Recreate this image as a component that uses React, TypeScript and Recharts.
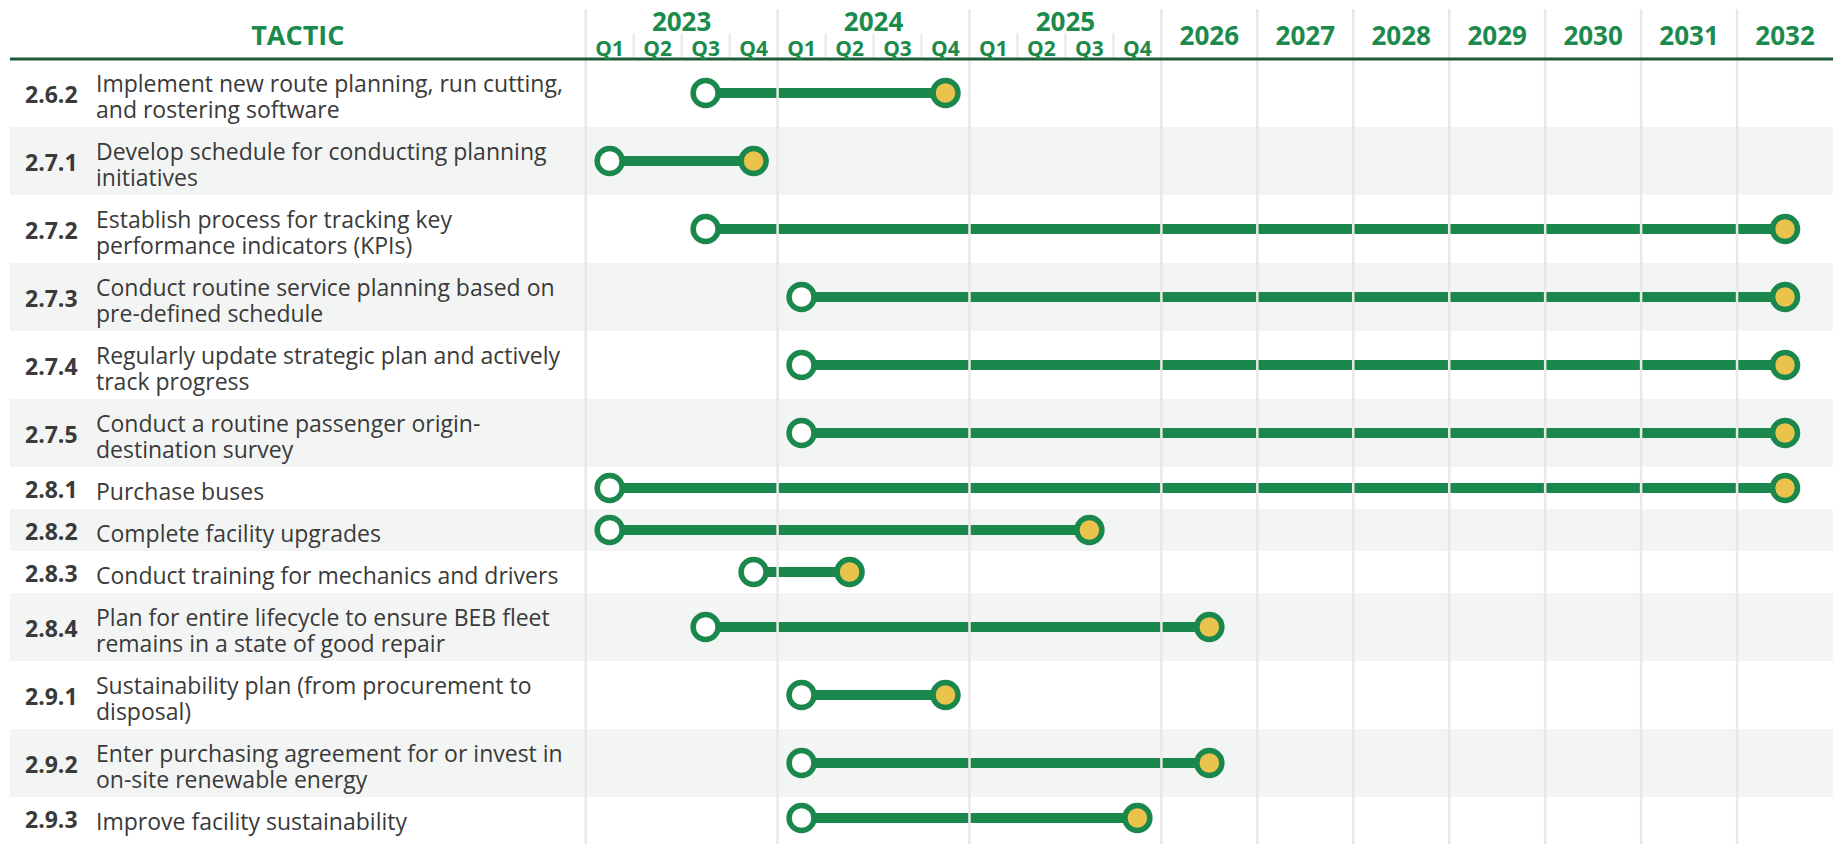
import React from "react";
import {
  ComposedChart, Line, XAxis, YAxis, ReferenceArea, ReferenceLine,
} from "recharts";

const IDS = ["2.6.2", "2.7.1", "2.7.2", "2.7.3", "2.7.4", "2.7.5", "2.8.1", "2.8.2", "2.8.3", "2.8.4", "2.9.1", "2.9.2", "2.9.3"];

const TACTICS = [
  ["Implement new route planning, run cutting,", "and rostering software"],
  ["Develop schedule for conducting planning", "initiatives"],
  ["Establish process for tracking key", "performance indicators (KPIs)"],
  ["Conduct routine service planning based on", "pre-defined schedule"],
  ["Regularly update strategic plan and actively", "track progress"],
  ["Conduct a routine passenger origin-", "destination survey"],
  ["Purchase buses"],
  ["Complete facility upgrades"],
  ["Conduct training for mechanics and drivers"],
  ["Plan for entire lifecycle to ensure BEB fleet", "remains in a state of good repair"],
  ["Sustainability plan (from procurement to", "disposal)"],
  ["Enter purchasing agreement for or invest in", "on-site renewable energy"],
  ["Improve facility sustainability"],
];

// start / end period of each tactic
const STARTS = ["2023 Q3", "2023 Q1", "2023 Q3", "2024 Q1", "2024 Q1", "2024 Q1", "2023 Q1", "2023 Q1", "2023 Q4", "2023 Q3", "2024 Q1", "2024 Q1", "2024 Q1"];
const ENDS = ["2024 Q4", "2023 Q4", "2032", "2032", "2032", "2032", "2032", "2025 Q3", "2024 Q2", "2026", "2024 Q4", "2026", "2025 Q4"];

const QUARTER_YEARS = [2023, 2024, 2025];
const QUARTERS = ["Q1", "Q2", "Q3", "Q4"];
const LATE_YEARS = [2026, 2027, 2028, 2029, 2030, 2031, 2032];

const GREEN = "#1a884c";
const HEAD = "#1b8a4d";
const DARK = "#1f5a36";
const YELLOW = "#e9c34b";
const BAND = "#f3f5f4";
const GRID = "#e8e8e8";
const TEXT = "#3a3a3a";
const FONT = "'Open Sans', sans-serif";

// x units: one quarter = 1 unit (2023-2025), one year = 2 units (2026+)
const toX = (p: string) => {
  const [y, q] = p.split(" ");
  const yr = Number(y);
  if (q) return (yr - 2023) * 4 + Number(q.slice(1)) - 0.5;
  return 12 + (yr - 2026) * 2 + 1;
};

const LINE_H = 26;
const PAD = 16;
const heights = TACTICS.map(t => t.length * LINE_H + PAD);
const tops = heights.map((_, i) => heights.slice(0, i).reduce((s, h) => s + h, 0));
const centers = tops.map((t, i) => t + heights[i] / 2);
const TOTAL = heights.reduce((s, h) => s + h, 0);

const rows = IDS.map((id, i) => ({
  id,
  data: [
    { x: toX(STARTS[i]), y: centers[i] },
    { x: toX(ENDS[i]), y: centers[i] },
  ],
}));

const yearLines = [0, 4, 8, 12, 14, 16, 18, 20, 22, 24];
const quarterTicks = [1, 2, 3, 5, 6, 7, 9, 10, 11];

const qTicks: number[] = [];
const qLabels: Record<string, string> = {};
QUARTER_YEARS.forEach((_, yi) => QUARTERS.forEach((q, qi) => {
  const x = yi * 4 + qi + 0.5;
  qTicks.push(x);
  qLabels[String(x)] = q;
}));

const yTicks: number[] = [-6];
const yLabels: Record<string, { t: string; big: boolean }> = { "-6": { t: "TACTIC", big: true } };
QUARTER_YEARS.forEach((y, yi) => {
  yTicks.push(yi * 4 + 2);
  yLabels[String(yi * 4 + 2)] = { t: String(y), big: false };
});
LATE_YEARS.forEach((y, yi) => {
  yTicks.push(12 + yi * 2 + 1);
  yLabels[String(12 + yi * 2 + 1)] = { t: String(y), big: true };
});

const YearTick = (p: any) => {
  const l = yLabels[String(p.payload.value)];
  if (!l) return <g />;
  const isTactic = l.t === "TACTIC";
  return (
    <text x={p.x} y={l.big ? 45 : 31} textAnchor="middle" fill={HEAD}
      fontFamily={FONT} fontWeight={700} fontSize={isTactic ? 27 : 26}>
      {l.t}
    </text>
  );
};

const QuarterTick = (p: any) => (
  <text x={p.x} y={56} textAnchor="middle" fill={HEAD}
    fontFamily={FONT} fontWeight={700} fontSize={21}>
    {qLabels[String(p.payload.value)]}
  </text>
);

const RowTick = (p: any) => {
  const i = centers.indexOf(p.payload.value);
  if (i < 0) return <g />;
  const lines = TACTICS[i];
  return (
    <g fontFamily={FONT} fontSize={23} fill={TEXT}>
      <text x={25} y={p.y + 10} fontWeight={700}>{IDS[i]}</text>
      {lines.map((ln, k) => (
        <text key={k} x={96} y={p.y + 11.5 + (k - (lines.length - 1) / 2) * LINE_H}>{ln}</text>
      ))}
    </g>
  );
};

const Marker = (p: any) => (
  <circle key={p.index} cx={p.cx} cy={p.cy} r={12.5}
    fill={p.index === 0 ? "#ffffff" : YELLOW} stroke={GREEN} strokeWidth={5.5} />
);

export default function App() {
  return (
    <div style={{ position: "absolute", left: 0, top: 0, width: 1845, height: 844, background: "#fff" }}>
      <ComposedChart width={1845} height={844} margin={{ top: 7, right: 12, bottom: 0, left: 9 }}>
        <XAxis xAxisId={0} dataKey="x" type="number" domain={[-12, 26]} allowDataOverflow
          orientation="top" height={1} ticks={yTicks} interval={0} tick={YearTick}
          axisLine={false} tickLine={false} tickSize={0} tickMargin={0} />
        <XAxis xAxisId="q" dataKey="x" type="number" domain={[-12, 26]} allowDataOverflow
          orientation="top" height={1} ticks={qTicks} interval={0} tick={QuarterTick}
          axisLine={false} tickLine={false} tickSize={0} tickMargin={0} />
        <YAxis type="number" domain={[-50, TOTAL + 5]} allowDataOverflow reversed width={1}
          ticks={centers} interval={0} tick={RowTick}
          axisLine={false} tickLine={false} tickSize={0} tickMargin={0} />

        {rows.map((r, i) => i % 2 === 1 ? (
          <ReferenceArea key={"band" + i} x1={-12} x2={26} y1={tops[i]} y2={tops[i] + heights[i]}
            fill={BAND} fillOpacity={1} stroke="none" ifOverflow="visible" />
        ) : null)}

        {quarterTicks.map(q => (
          <ReferenceLine key={"qt" + q} segment={[{ x: q, y: -26 }, { x: q, y: -2 }]}
            stroke={GRID} strokeWidth={2} ifOverflow="visible" />
        ))}

        {rows.map(r => (
          <Line key={r.id} data={r.data} dataKey="y" type="linear" stroke={GREEN} strokeWidth={10}
            dot={Marker} activeDot={false} isAnimationActive={false} />
        ))}

        {yearLines.map(x => (
          <ReferenceLine key={"yl" + x} x={x} stroke={GRID} strokeWidth={2.5} ifOverflow="visible" />
        ))}

        <ReferenceLine y={0} stroke={DARK} strokeWidth={3} ifOverflow="visible" />
      </ComposedChart>
    </div>
  );
}
